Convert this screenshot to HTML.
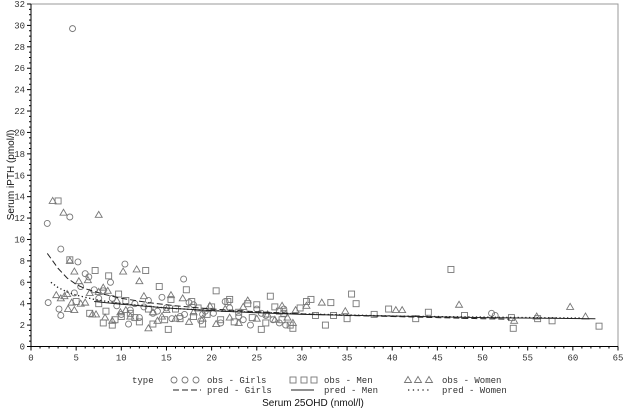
<!DOCTYPE html>
<html><head><meta charset="utf-8"><style>
html,body{margin:0;padding:0;background:#fff;}
svg{display:block;}
text{font-family:"Liberation Mono",monospace;font-size:9px;fill:#333;}
.t{font-family:"Liberation Sans",sans-serif;font-size:10px;fill:#111;}
</style></head><body>
<svg id="chart" width="625" height="412" xmlns="http://www.w3.org/2000/svg">
<g id="axes"></g><g id="marks"></g><g id="legend"></g>
</svg>
<script>
const xTicks=[0,5,10,15,20,25,30,35,40,45,50,55,60,65];
const yTicks=[0,2,4,6,8,10,12,14,16,18,20,22,24,26,28,30,32];
const girlsObs=[[1.8,11.5],[4.3,12.1],[3.3,9.1],[4.6,29.7],[1.9,4.1],[3.1,3.5],[3.3,2.9],[5.2,7.9],[6.0,6.8],[6.4,6.5],[8.8,6.0],[10.4,7.7],[16.9,6.3],[4.8,5.0],[5.5,5.6],[7.0,5.3],[8.0,5.2],[9.0,4.5],[10,3.0],[10.8,2.1],[11.5,4.0],[12.5,3.7],[13,4.3],[14,3.3],[15,3.6],[15.6,2.6],[16.5,2.8],[17.5,4.1],[18,3.9],[18.8,2.4],[19.3,3.3],[20.2,3.1],[21,2.2],[22,3.6],[23,2.8],[24.3,2.0],[25,3.5],[26,2.9],[26.8,2.5],[27.5,2.2],[28.2,2.0],[21.5,4.2],[19,3.0],[12,2.7],[7.5,4.5],[9.5,3.8],[51,3.1],[51.4,2.9],[13.5,3.1],[17,3.0],[28,3.5],[14.5,4.6],[23.5,2.5],[25.5,3.1],[11,3.4]];
const menObs=[[3.0,13.6],[4.3,8.1],[7.1,7.1],[8.6,6.6],[12.7,7.1],[46.5,7.2],[7.5,4.0],[8.3,3.3],[8.0,2.2],[9,2.0],[9.3,2.5],[10,2.8],[10.5,4.3],[11,3.1],[11.5,2.7],[12,2.3],[13,3.5],[13.5,2.1],[14.2,5.6],[14.8,2.5],[15.2,1.6],[16,3.5],[16.5,2.6],[17.2,5.3],[17.8,4.2],[18.5,3.6],[19,2.1],[19.5,3.0],[20.5,5.2],[21,2.5],[21.8,4.2],[22.5,2.3],[23,3.2],[24,4.0],[24.5,2.7],[25.5,1.6],[26,2.2],[26.5,4.7],[27,3.7],[27.5,3.3],[28,3.1],[28.7,2.0],[29,1.7],[29.8,3.6],[30.5,4.2],[31,4.4],[31.5,2.9],[32.6,2.0],[33.2,4.1],[35.5,4.9],[36,4.0],[39.6,3.5],[42.6,2.6],[53.2,2.7],[53.4,1.7],[56.1,2.6],[57.7,2.4],[62.9,1.9],[5.0,4.2],[6.5,3.1],[18,2.8],[22,4.4],[35,2.6],[38,3.0],[44,3.2],[48,2.9],[9.7,4.9],[15.5,4.4],[25,3.9],[27.8,2.5],[33.5,2.9],[20,3.7]];
const womenObs=[[2.4,13.6],[3.6,12.5],[7.5,12.3],[4.3,8.0],[4.8,7.0],[10.2,7.0],[11.7,7.2],[12,6.1],[5.3,6.1],[6.3,6.2],[4.1,3.5],[4.8,3.4],[3.7,4.7],[4.0,4.9],[4.5,4.1],[5.5,4.0],[6.0,4.1],[6.8,3.0],[7.2,3.0],[8.0,5.5],[8.5,5.2],[8.2,2.7],[9,2.4],[9.5,4.3],[10.5,3.4],[11,2.8],[12.5,4.7],[13,1.7],[13.5,3.2],[14,2.4],[14.5,2.8],[15.5,4.8],[16,2.6],[16.8,4.5],[17.5,2.3],[18,3.2],[19,2.6],[19.8,3.8],[20.5,2.1],[21.5,3.5],[22,2.7],[23,2.2],[24,4.3],[25,2.6],[26.2,3.0],[27,2.5],[27.8,3.8],[28.4,2.7],[29.3,3.4],[30.5,3.8],[32.2,4.1],[34.8,3.3],[40.4,3.4],[41.1,3.4],[47.4,3.9],[53.5,2.4],[56,2.8],[59.7,3.7],[61.4,2.8],[3.3,4.5],[6.5,5.0],[9.9,3.2],[15,3.4],[23.5,3.7],[29,2.2],[7.5,5.1],[2.8,4.8]];
const girlsPredX=[1.8,3,4,5,6,8,10,13,16,20,25,30,35,40,45,50,53];
const girlsPredY=[8.7,7.3,6.4,5.8,5.4,4.9,4.5,4.1,3.8,3.5,3.25,3.05,2.9,2.8,2.7,2.6,2.55];
const womenPredX=[2.2,3,4,5,7,10,15,20,25,30,40,50,61];
const womenPredY=[6.0,5.5,5.1,4.8,4.4,4.0,3.6,3.35,3.2,3.05,2.85,2.75,2.65];
const menPredX=[7,10,15,20,25,30,40,50,62.5];
const menPredY=[4.2,3.95,3.6,3.35,3.15,3.0,2.85,2.7,2.6];

const X0=31,X1=618,Y0=346.5,Y1=4;
const sx=v=>X0+(v-0)/65*(X1-X0);
const sy=v=>Y0-(v-0)/32*(Y0-Y1);
const NS="http://www.w3.org/2000/svg";
function mk(tag,attrs,parent){const e=document.createElementNS(NS,tag);for(const k in attrs)e.setAttribute(k,attrs[k]);parent.appendChild(e);return e;}
const axes=document.getElementById('axes'),marks=document.getElementById('marks'),legend=document.getElementById('legend');
let fr=mk('rect',{x:X0,y:Y1,width:X1-X0,height:Y0-Y1,fill:'none',stroke:'#999','stroke-width':1},axes);


let xa=mk('line',{x1:X0,y1:Y0,x2:X1,y2:Y0,stroke:'#000'},axes);


let ya=mk('line',{x1:X0,y1:Y0,x2:X0,y2:Y1,stroke:'#000'},axes);


for(let v=0;v<=65;v++){const maj=v%5===0;mk('line',{x1:sx(v),y1:Y0,x2:sx(v),y2:Y0+(maj?4:2),stroke:'#000'},axes);}
for(let v=0;v<=32;v+=0.5){const maj=v%2===0;mk('line',{x1:X0,y1:sy(v),x2:X0-(maj?4:2),y2:sy(v),stroke:'#000'},axes);}
xTicks.forEach(v=>{const t=mk('text',{x:sx(v),y:Y0+14,'text-anchor':'middle'},axes);t.textContent=v;

});
yTicks.forEach(v=>{const t=mk('text',{x:X0-6,y:sy(v)+3,'text-anchor':'end'},axes);t.textContent=v;

});
let yt=mk('text',{x:0,y:0,class:'t','text-anchor':'middle',transform:'translate(14,175) rotate(-90)'},axes);yt.textContent='Serum iPTH (pmol/l)';


let xt=mk('text',{x:313,y:406,class:'t','text-anchor':'middle'},axes);xt.textContent='Serum 25OHD (nmol/l)';



const C='#777';
function circle(x,y,p){return mk('circle',{cx:x,cy:y,r:3,fill:'none',stroke:C,'stroke-width':0.9},p);}
function square(x,y,p){return mk('rect',{x:x-3,y:y-3,width:6,height:6,fill:'none',stroke:C,'stroke-width':0.9},p);}
function tri(x,y,p){return mk('polygon',{points:`${x},${y-3.5} ${x-3.5},${y+2.5} ${x+3.5},${y+2.5}`,fill:'none',stroke:C,'stroke-width':0.9},p);}
girlsObs.forEach(d=>{const e=circle(sx(d[0]),sy(d[1]),marks);

});
menObs.forEach(d=>{const e=square(sx(d[0]),sy(d[1]),marks);

});
womenObs.forEach(d=>{const e=tri(sx(d[0]),sy(d[1]),marks);

});
function path(xs,ys){let s='';xs.forEach((x,i)=>{s+=(i?'L':'M')+sx(x).toFixed(1)+','+sy(ys[i]).toFixed(1);});return s;}
let pg=mk('path',{d:path(girlsPredX,girlsPredY),fill:'none',stroke:'#222','stroke-width':1,'stroke-dasharray':'6,3'},marks);


let pm=mk('path',{d:path(menPredX,menPredY),fill:'none',stroke:'#222','stroke-width':1},marks);


let pw=mk('path',{d:path(womenPredX,womenPredY),fill:'none',stroke:'#222','stroke-width':1.3,'stroke-dasharray':'1.3,2.5'},marks);



let lt=mk('text',{x:132,y:383},legend);lt.textContent='type';


[174,185,196].forEach(x=>circle(x,380,legend));
[293,304,314].forEach(x=>square(x,380,legend));
[408,418,429].forEach(x=>tri(x,380,legend));
const labs=[[207,383,'obs - Girls','legend-obs-girls'],[324,383,'obs - Men','legend-obs-men'],[442,383,'obs - Women','legend-obs-women'],
[207,393,'pred - Girls','legend-pred-girls'],[324,393,'pred - Men','legend-pred-men'],[442,393,'pred - Women','legend-pred-women']];
labs.forEach(l=>{const t=mk('text',{x:l[0],y:l[1]},legend);t.textContent=l[2];

});
mk('line',{x1:173,y1:390,x2:201,y2:390,stroke:'#222','stroke-dasharray':'6,3'},legend);
mk('line',{x1:291,y1:390,x2:314,y2:390,stroke:'#222'},legend);
mk('line',{x1:408,y1:390,x2:430,y2:390,stroke:'#222','stroke-width':1.3,'stroke-dasharray':'1.3,3.5'},legend);
</script>
</body></html>
